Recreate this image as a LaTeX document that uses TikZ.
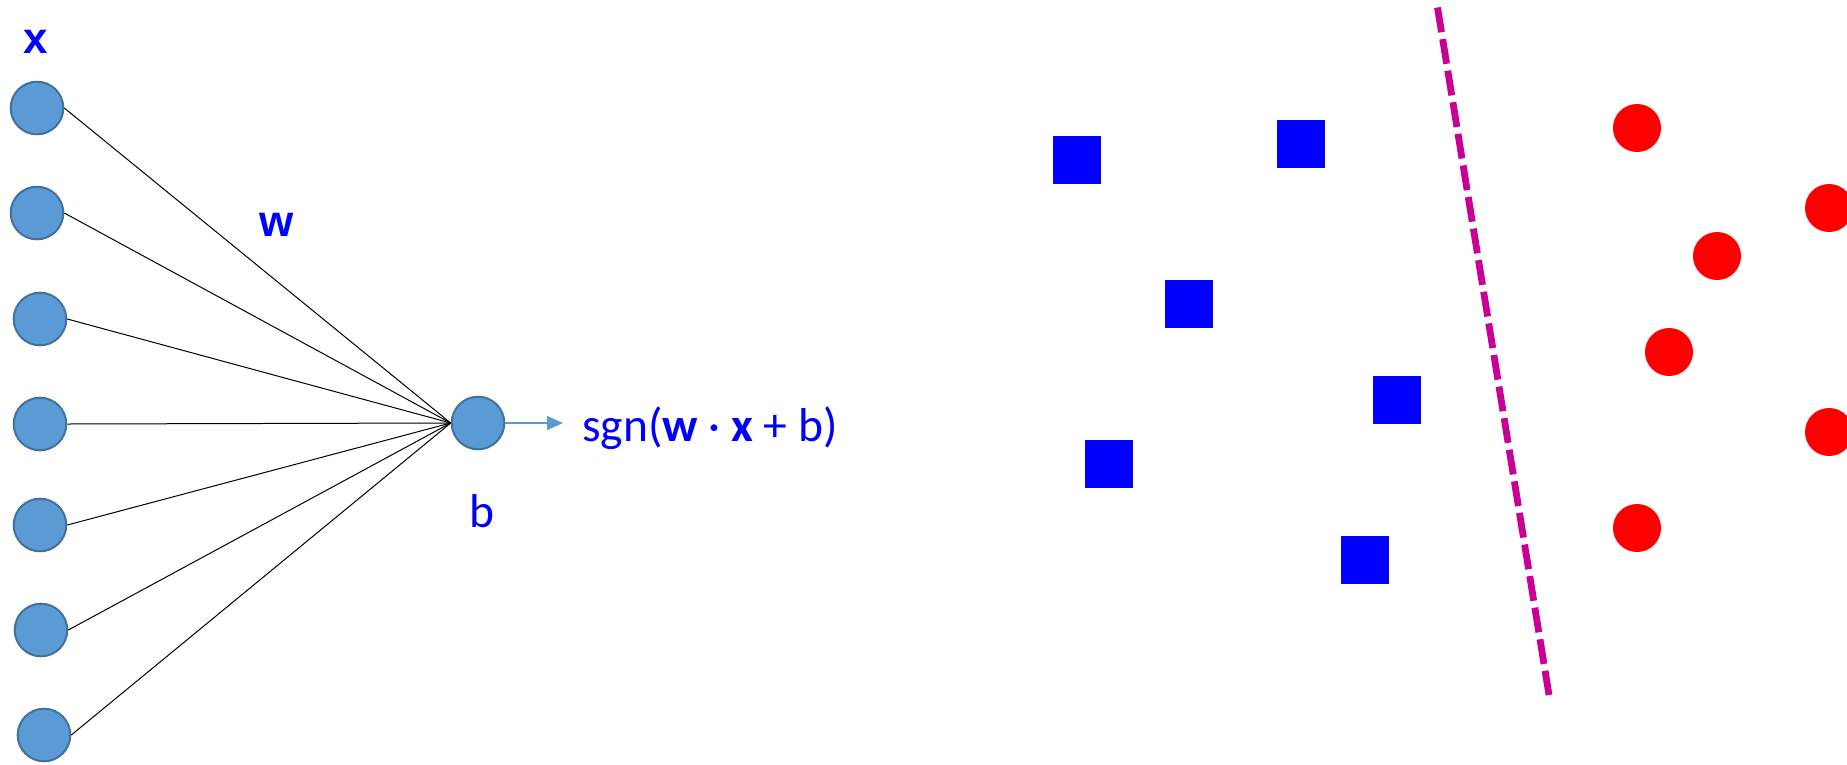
\documentclass[tikz,border=0pt]{standalone}
\usepackage{fontspec}
\setmainfont{Carlito}
\newfontfamily\labelfont{Liberation Sans}
\usetikzlibrary{arrows.meta}
\definecolor{neuronfill}{HTML}{5B9BD5}
\definecolor{neurondraw}{HTML}{41719C}
\definecolor{textblue}{RGB}{0,0,255}
\definecolor{boundary}{RGB}{200,0,150}

\begin{document}
\begin{tikzpicture}[x=1pt,y=-1pt,
  neuron/.style={circle, fill=neuronfill, draw=neurondraw, line width=2pt,
    minimum size=52.6pt, inner sep=0pt},
  weight/.style={draw=black, line width=1pt},
  classA/.style={rectangle, fill=textblue, minimum size=48pt, inner sep=0pt},
  classB/.style={circle, fill=red, minimum size=48pt, inner sep=0pt},
  veclabel/.style={text=textblue, font=\labelfont\bfseries\fontsize{44}{44}\selectfont,
    anchor=base, inner sep=0pt},
  formula/.style={text=textblue, font=\fontsize{47.5}{47.5}\selectfont, inner sep=0pt},
  outarrow/.style={draw=neuronfill, line width=1.5pt, -{Triangle[length=16pt,width=14pt]}},
  separator/.style={draw=boundary, line width=6.8pt, dash pattern=on 25pt off 7pt}]
\useasboundingbox (0,0) rectangle (1847,764);

% perceptron: inputs, output unit and its labels
\node[neuron] (in1) at (37,108) {};
\node[neuron] (in2) at (37,213) {};
\node[neuron] (in3) at (40,319) {};
\node[neuron] (in4) at (40,424) {};
\node[neuron] (in5) at (40,525) {};
\node[neuron] (in6) at (41,630) {};
\node[neuron] (in7) at (44,735) {};
\node[neuron] (out) at (478,423) {};

\foreach \i in {1,...,7}
  \draw[weight] (in\i.east) -- (out.west);

\coordinate (tip) at (563,423);
\draw[outarrow] (out.east) -- (tip);

\node[veclabel] (xlab) at (36,53) {x};
\node[veclabel] (wlab) at (277,236.5) {w};
\node[formula, anchor=base] (blab) at (482,527) {b};
\node[formula, anchor=base west] (sgn) at (582,441)
  {sgn(\textbf{w} · \textbf{x} + b)};

% two linearly separable classes and the separating line
\node[classA] (s1) at (1077,160) {};
\node[classA] (s2) at (1301,144) {};
\node[classA] (s3) at (1189,304) {};
\node[classA] (s4) at (1397,400) {};
\node[classA] (s5) at (1109,464) {};
\node[classA] (s6) at (1365,560) {};

\node[classB] (c1) at (1637,128) {};
\node[classB] (c2) at (1829,208) {};
\node[classB] (c3) at (1717,256) {};
\node[classB] (c4) at (1669,352) {};
\node[classB] (c5) at (1829,432) {};
\node[classB] (c6) at (1637,528) {};

\coordinate (sepTop) at (1437.5,7.5);
\coordinate (sepBot) at (1549,695);
\draw[separator] (sepTop) -- (sepBot);
\end{tikzpicture}
\end{document}
